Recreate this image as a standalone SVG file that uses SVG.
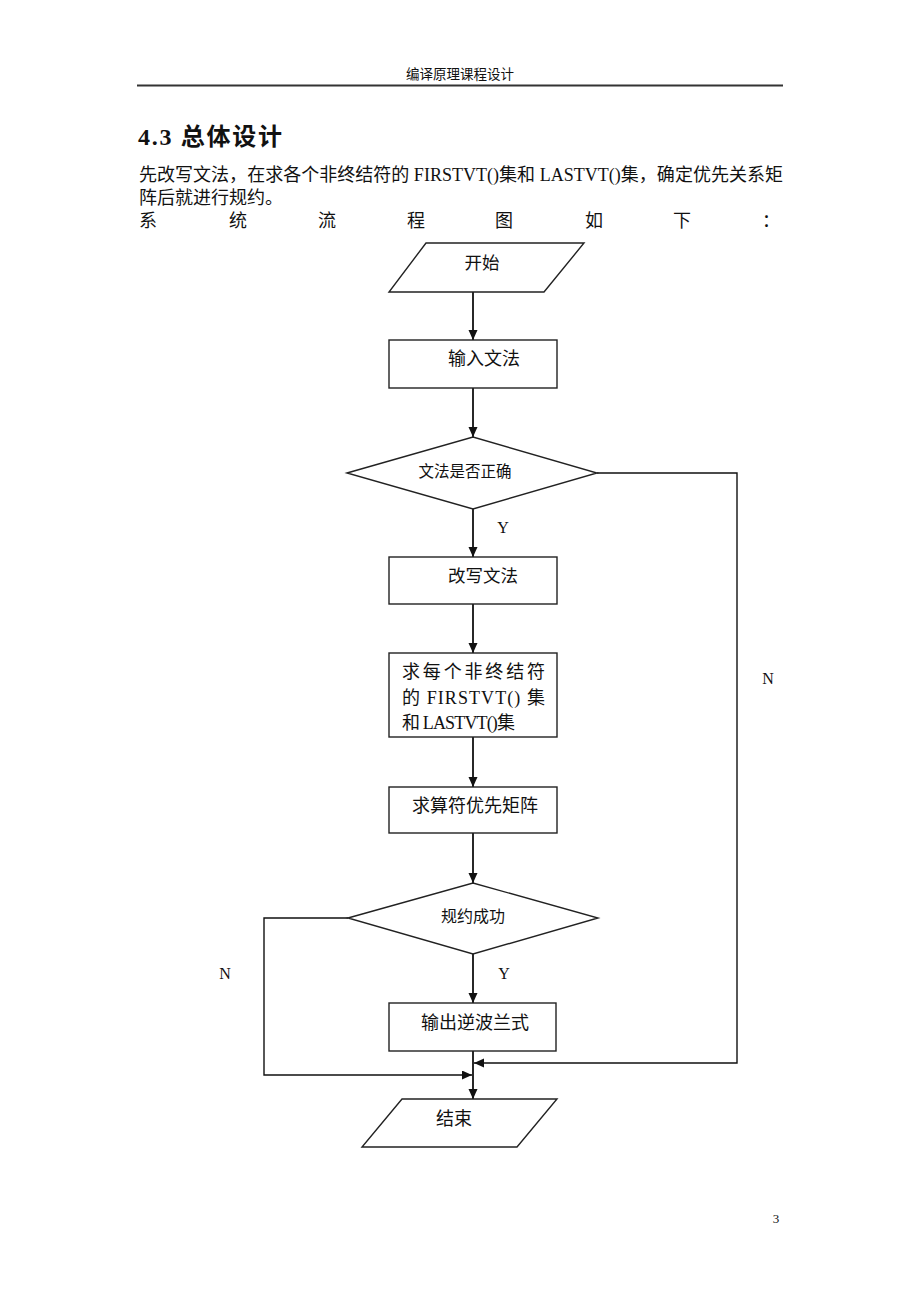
<svg xmlns="http://www.w3.org/2000/svg" width="920" height="1302" viewBox="0 0 920 1302">
<style>
.t{font-family:"Liberation Serif","Noto Sans CJK SC",serif;fill:#111}
.c{text-anchor:middle}
.shape{fill:#fff;stroke:#222;stroke-width:1.4}
.conn{fill:none;stroke:#111;stroke-width:1.8}
</style>
<defs>
<marker id="ah" markerUnits="userSpaceOnUse" markerWidth="10" markerHeight="10" refX="10" refY="4.5" orient="auto">
<path d="M0,0 L10,4.5 L0,9 z" fill="#111"/>
</marker>
</defs>
<rect width="920" height="1302" fill="#fff"/>
<g id="header">
<text class="t c" x="460" y="79" font-size="13.5">编译原理课程设计</text>
<line x1="137" y1="85.5" x2="783" y2="85.5" stroke="#333" stroke-width="2"/>
</g>
<g id="body-text">
<text class="t" x="138" y="145" font-size="24" font-weight="bold" textLength="144" lengthAdjust="spacing">4.3 总体设计</text>
<text class="t" x="139" y="181" font-size="18" textLength="644" lengthAdjust="spacing">先改写文法，在求各个非终结符的 FIRSTVT()集和 LASTVT()集，确定优先关系矩</text>
<text class="t" x="139" y="204" font-size="18">阵后就进行规约。</text>
<text class="t" y="227" font-size="18"><tspan x="139">系</tspan><tspan x="229">统</tspan><tspan x="318">流</tspan><tspan x="407">程</tspan><tspan x="495">图</tspan><tspan x="585">如</tspan><tspan x="673">下</tspan><tspan x="762">：</tspan></text>
</g>
<g id="connectors">
<line class="conn" x1="473" y1="292" x2="473" y2="340" marker-end="url(#ah)"/>
<line class="conn" x1="473" y1="388" x2="473" y2="437" marker-end="url(#ah)"/>
<line class="conn" x1="473" y1="509" x2="473" y2="557" marker-end="url(#ah)"/>
<line class="conn" x1="473" y1="604" x2="473" y2="653" marker-end="url(#ah)"/>
<line class="conn" x1="473" y1="737" x2="473" y2="787" marker-end="url(#ah)"/>
<line class="conn" x1="473" y1="833" x2="473" y2="883" marker-end="url(#ah)"/>
<line class="conn" x1="473" y1="954" x2="473" y2="1003" marker-end="url(#ah)"/>
<line class="conn" x1="473" y1="1051" x2="473" y2="1099" marker-end="url(#ah)"/>
<polyline class="conn" style="stroke-width:1.4" points="597,473 737,473 737,1063 474,1063" marker-end="url(#ah)"/>
<polyline class="conn" style="stroke-width:1.4" points="348,918 264,918 264,1075 472,1075" marker-end="url(#ah)"/>
<text class="t c" x="503" y="533" font-size="16">Y</text>
<text class="t c" x="504" y="979" font-size="16">Y</text>
<text class="t c" x="768" y="684" font-size="16">N</text>
<text class="t c" x="225" y="979" font-size="16">N</text>
</g>
<g id="start">
<polygon class="shape" points="426,243 584,243 544,292 389,292"/>
<text class="t c" x="482" y="269" font-size="17.5">开始</text>
</g>
<g id="input">
<rect class="shape" x="389" y="340" width="168" height="48"/>
<text class="t c" x="484" y="365" font-size="18">输入文法</text>
</g>
<g id="check">
<polygon class="shape" points="347,473 473,437 597,473 473,509"/>
<text class="t c" x="465" y="477" font-size="15.5">文法是否正确</text>
</g>
<g id="rewrite">
<rect class="shape" x="389" y="557" width="168" height="47"/>
<text class="t c" x="483" y="582" font-size="17.5">改写文法</text>
</g>
<g id="sets">
<rect class="shape" x="389" y="653" width="168" height="84"/>
<text class="t" x="402" y="678" font-size="18" textLength="143" lengthAdjust="spacing">求每个非终结符</text>
<text class="t" x="402" y="704" font-size="18" textLength="143" lengthAdjust="spacing">的 FIRSTVT() 集</text>
<text class="t" x="402" y="729" font-size="18" textLength="113" lengthAdjust="spacing">和 LASTVT()集</text>
</g>
<g id="matrix">
<rect class="shape" x="389" y="787" width="168" height="46"/>
<text class="t c" x="475" y="812" font-size="18">求算符优先矩阵</text>
</g>
<g id="reduce">
<polygon class="shape" points="348,918 473,883 598,918 473,954"/>
<text class="t c" x="473" y="922" font-size="16">规约成功</text>
</g>
<g id="output">
<rect class="shape" x="389" y="1003" width="167" height="48"/>
<text class="t c" x="475" y="1029" font-size="18">输出逆波兰式</text>
</g>
<g id="end">
<polygon class="shape" points="402,1099 557,1099 517,1147 362,1147"/>
<text class="t c" x="454" y="1125" font-size="18">结束</text>
</g>
<g id="page">
<text class="t c" x="776" y="1223" font-size="13">3</text>
</g>
</svg>
